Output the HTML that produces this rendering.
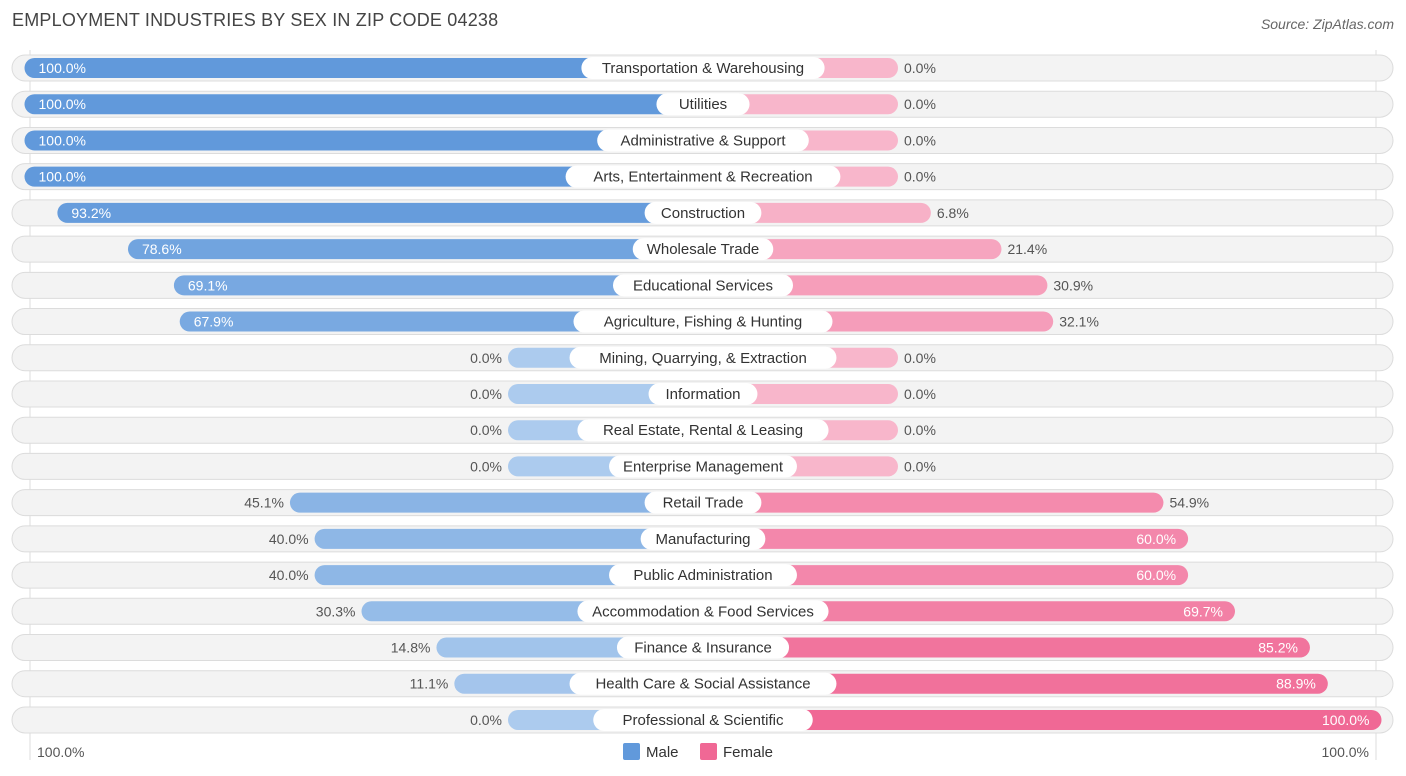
<!DOCTYPE html>
<html><head><meta charset="utf-8"><style>
body{margin:0;width:1406px;height:776px;background:#fff;font-family:"Liberation Sans",sans-serif;overflow:hidden;position:relative}
.t{position:absolute;white-space:nowrap}
</style></head><body>
<div class="t" style="left:12px;top:10px;font-size:18px;color:#444;letter-spacing:0.2px">EMPLOYMENT INDUSTRIES BY SEX IN ZIP CODE 04238</div>
<div class="t" style="right:12px;top:16px;font-size:14px;color:#666;font-style:italic">Source: ZipAtlas.com</div>
<svg id="chart" width="1406" height="776" style="position:absolute;left:0;top:0"></svg>
<script>
const categories=["Transportation & Warehousing","Utilities","Administrative & Support","Arts, Entertainment & Recreation","Construction","Wholesale Trade","Educational Services","Agriculture, Fishing & Hunting","Mining, Quarrying, & Extraction","Information","Real Estate, Rental & Leasing","Enterprise Management","Retail Trade","Manufacturing","Public Administration","Accommodation & Food Services","Finance & Insurance","Health Care & Social Assistance","Professional & Scientific"];
const maleValues=[100,100,100,100,93.2,78.6,69.1,67.9,0,0,0,0,45.1,40,40,30.3,14.8,11.1,0];
const femaleValues=[0,0,0,0,6.8,21.4,30.9,32.1,0,0,0,0,54.9,60,60,69.7,85.2,88.9,100];
const axisLabels=["100.0%","100.0%"];
const svg=document.getElementById('chart');
const NS="http://www.w3.org/2000/svg";
const cx=703,offset=195,scale=4.835,y0=68,step=36.22;
function mk(t,a){const e=document.createElementNS(NS,t);for(const k in a)e.setAttribute(k,a[k]);svg.appendChild(e);return e;}
function mix(c1,c2,f){return 'rgb('+c1.map((v,i)=>Math.round(v+(c2[i]-v)*f)).join(',')+')';}
const mLight=[172,203,238],mDark=[97,153,219],fLight=[248,182,203],fDark=[240,104,149];
const ml=mk('line',{x1:30,y1:50,x2:30,y2:760,stroke:'#ddd','stroke-width':1});

const mr=mk('line',{x1:1376,y1:50,x2:1376,y2:760,stroke:'#ddd','stroke-width':1});

categories.forEach((c,i)=>{
 const y=y0+i*step;
 const tr=mk('rect',{x:12,y:y-13,width:1381,height:26,rx:13,fill:'#f3f3f3',stroke:'#dcdcdc','stroke-width':1});
 
 const mv=maleValues[i],fv=femaleValues[i];
 const mw=offset+mv*scale,fw=offset+fv*scale;
 const mb=mk('rect',{x:cx-mw,y:y-10,width:mw,height:20,rx:10,fill:mix(mLight,mDark,mv/100)});
 
 const fb=mk('rect',{x:cx,y:y-10,width:fw,height:20,rx:10,fill:mix(fLight,fDark,fv/100)});
 
 const w=c.length*7.9+22;
 const lb=mk('rect',{x:cx-w/2,y:y-11,width:w,height:22,rx:11,fill:'#fff'});
 
 const lt=mk('text',{x:cx,y:y+5,'text-anchor':'middle','font-size':15,fill:'#333'});lt.textContent=c;
 
 const mIn=mv>=55;
 const mt=mk('text',{x:mIn?cx-mw+14:cx-mw-6,y:y+5,'text-anchor':mIn?'start':'end','font-size':14,fill:mIn?'#fff':'#555'});
 mt.textContent=mv.toFixed(1)+'%';
 
 const fIn=fv>=55.5;
 const ft=mk('text',{x:fIn?cx+fw-12:cx+fw+6,y:y+5,'text-anchor':fIn?'end':'start','font-size':14,fill:fIn?'#fff':'#555'});
 ft.textContent=fv.toFixed(1)+'%';
 
});
const a1=mk('text',{x:37,y:757,'font-size':14,fill:'#555'});a1.textContent=axisLabels[0];

const a2=mk('text',{x:1369,y:757,'text-anchor':'end','font-size':14,fill:'#555'});a2.textContent=axisLabels[1];

const s1=mk('rect',{x:623,y:743,width:17,height:17,rx:2,fill:'#6199db'});

const l1=mk('text',{x:646,y:757,'font-size':15,fill:'#333'});l1.textContent='Male';

const s2=mk('rect',{x:700,y:743,width:17,height:17,rx:2,fill:'#f06895'});

const l2=mk('text',{x:723,y:757,'font-size':15,fill:'#333'});l2.textContent='Female';

</script>
</body></html>
